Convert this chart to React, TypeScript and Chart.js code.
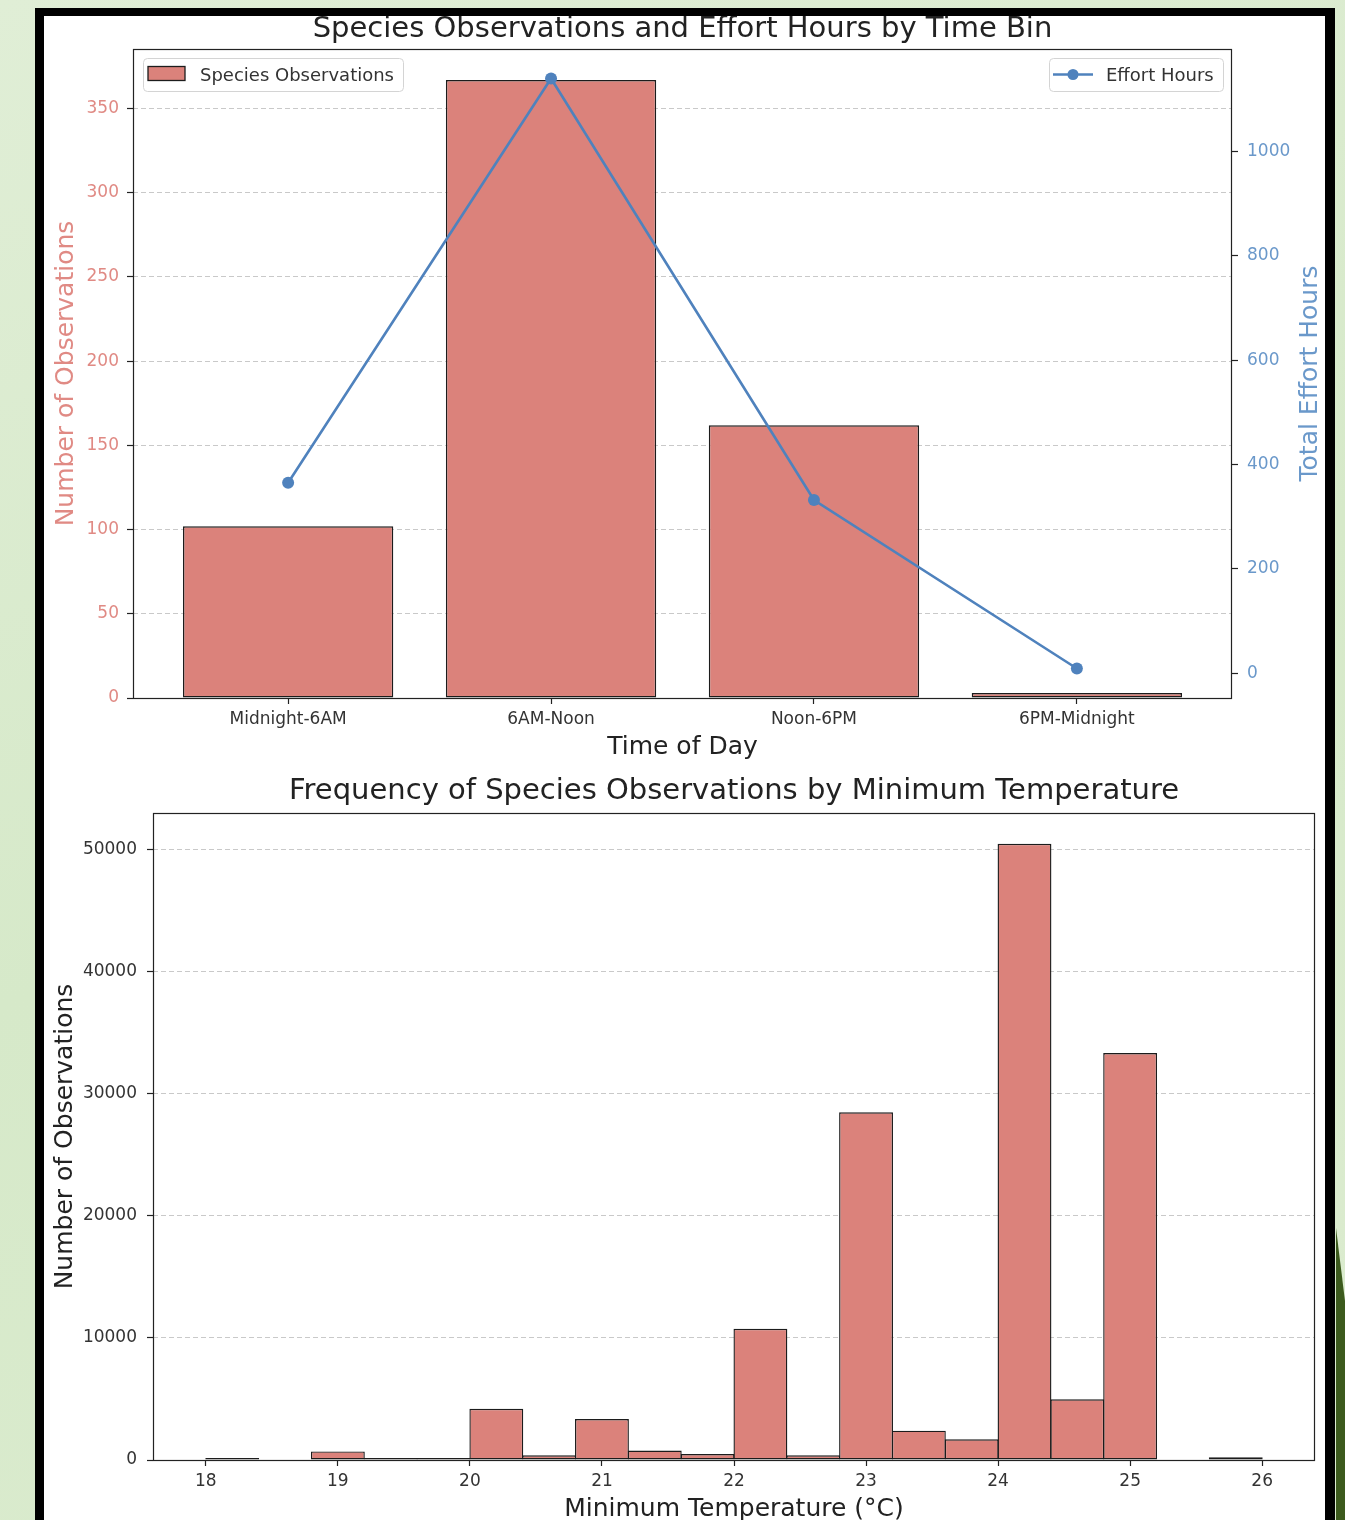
import React, { useEffect, useRef } from 'react';
import { Chart, registerables } from 'chart.js';

Chart.register(...registerables);

// ---------- Data: top chart ----------
const timeBins = ['Midnight-6AM', '6AM-Noon', 'Noon-6PM', '6PM-Midnight'];
const speciesObservations = [102, 367, 162, 3];
const effortHours = [365, 1140, 332, 9];
const obsTicks = [0, 50, 100, 150, 200, 250, 300, 350];
const effortTicks = [0, 200, 400, 600, 800, 1000];

// ---------- Data: bottom chart (histogram) ----------
const tempBinStarts = [18.0, 18.4, 18.8, 19.2, 19.6, 20.0, 20.4, 20.8, 21.2, 21.6, 22.0, 22.4, 22.8, 23.2, 23.6, 24.0, 24.4, 24.8, 25.2, 25.6];
const tempBinWidth = 0.4;
const tempCounts = [120, 0, 700, 60, 60, 4200, 380, 3360, 770, 490, 10750, 380, 28500, 2400, 1700, 50500, 4970, 33350, 0, 220];
const tempTicks = [18, 19, 20, 21, 22, 23, 24, 25, 26];
const countTicks = [0, 10000, 20000, 30000, 40000, 50000];

const FONT = 'DejaVu Sans';
const BAR = '#DB827B';
const EDGE = '#1c1c1c';
const BLUE = '#4F82BD';
const SALMON_TXT = '#E08A84';
const BLUE_TXT = '#6A98CA';
const DARK = '#222222';
const GRID = '#c9c9c9';

type TextSpec = {
  text: string; size: number; color: string;
  ax: 'l' | 'c' | 'r'; dx: number; ay: 't' | 'm' | 'b'; dy: number; rot?: boolean;
};
type LegendSpec = { kind: 'bar' | 'line'; label: string; side: 'l' | 'r'; w: number };

function makeAnnot(texts: TextSpec[], legends: LegendSpec[]) {
  return {
    id: 'annot',
    afterDraw(chart: any) {
      const ctx = chart.ctx as CanvasRenderingContext2D;
      const ca = chart.chartArea;
      ctx.save();
      // axes frame (all four spines)
      ctx.strokeStyle = DARK;
      ctx.lineWidth = 1.2;
      ctx.strokeRect(Math.round(ca.left) + 0.5, Math.round(ca.top) + 0.5,
        Math.round(ca.right - ca.left) - 1, Math.round(ca.bottom - ca.top));
      // texts
      for (const t of texts) {
        const x = (t.ax === 'l' ? ca.left : t.ax === 'r' ? ca.right : (ca.left + ca.right) / 2) + t.dx;
        const y = (t.ay === 't' ? ca.top : t.ay === 'b' ? ca.bottom : (ca.top + ca.bottom) / 2) + t.dy;
        ctx.font = `${t.size}px "${FONT}"`;
        ctx.fillStyle = t.color;
        ctx.textAlign = 'center';
        ctx.textBaseline = 'alphabetic';
        if (t.rot) {
          ctx.save();
          ctx.translate(x, y);
          ctx.rotate(-Math.PI / 2);
          ctx.fillText(t.text, 0, 0);
          ctx.restore();
        } else {
          ctx.fillText(t.text, x, y);
        }
      }
      // legends
      for (const lg of legends) {
        const h = 33;
        const bx = lg.side === 'l' ? ca.left + 10 : ca.right - 9 - lg.w;
        const by = ca.top + 9;
        ctx.beginPath();
        (ctx as any).roundRect(bx + 0.5, by + 0.5, lg.w, h, 4);
        ctx.fillStyle = 'rgba(255,255,255,0.85)';
        ctx.fill();
        ctx.strokeStyle = '#d4d4d4';
        ctx.lineWidth = 1;
        ctx.stroke();
        if (lg.kind === 'bar') {
          ctx.fillStyle = BAR;
          ctx.fillRect(bx + 5, by + 8.5, 37, 14);
          ctx.strokeStyle = EDGE;
          ctx.lineWidth = 1.3;
          ctx.strokeRect(bx + 5, by + 8.5, 37, 14);
        } else {
          ctx.strokeStyle = BLUE;
          ctx.lineWidth = 2.5;
          ctx.beginPath();
          ctx.moveTo(bx + 4, by + 16.5);
          ctx.lineTo(bx + 44, by + 16.5);
          ctx.stroke();
          ctx.fillStyle = BLUE;
          ctx.beginPath();
          ctx.arc(bx + 24, by + 16.5, 5.5, 0, Math.PI * 2);
          ctx.fill();
        }
        ctx.font = `18px "${FONT}"`;
        ctx.fillStyle = '#333';
        ctx.textAlign = 'left';
        ctx.textBaseline = 'alphabetic';
        ctx.fillText(lg.label, bx + 57, by + 23);
      }
      ctx.restore();
    },
  };
}

const tickFont = { family: FONT, size: 17 };

export default function App() {
  const topRef = useRef<HTMLCanvasElement>(null);
  const botRef = useRef<HTMLCanvasElement>(null);

  useEffect(() => {
    const topChart = new Chart(topRef.current as HTMLCanvasElement, {
      type: 'bar',
      data: {
        datasets: [
          {
            type: 'line',
            label: 'Effort Hours',
            data: effortHours.map((v, i) => ({ x: i, y: v })),
            yAxisID: 'y1',
            xAxisID: 'x',
            borderColor: BLUE,
            backgroundColor: BLUE,
            borderWidth: 2.6,
            pointRadius: 6,
            pointHoverRadius: 6,
            pointBackgroundColor: BLUE,
            pointBorderWidth: 0,
            tension: 0,
            order: 0,
          } as any,
          {
            type: 'bar',
            label: 'Species Observations',
            data: speciesObservations.map((v, i) => ({ x: i, y: v })),
            yAxisID: 'y',
            xAxisID: 'x',
            backgroundColor: BAR,
            borderColor: EDGE,
            borderWidth: 1.5,
            borderSkipped: false,
            categoryPercentage: 1,
            barPercentage: 0.8,
            order: 1,
          } as any,
        ],
      },
      options: {
        responsive: false,
        animation: false,
        events: [],
        layout: { padding: { top: 33, left: 0, right: 0, bottom: 0 } },
        plugins: { legend: { display: false }, title: { display: false }, tooltip: { enabled: false } },
        scales: {
          x: {
            type: 'linear',
            min: -0.59,
            max: 3.59,
            offset: false,
            afterFit: (s: any) => { s.height = 78; },
            afterBuildTicks: (s: any) => { s.ticks = timeBins.map((_, i) => ({ value: i })); },
            ticks: {
              autoSkip: false, maxRotation: 0, padding: 5, color: '#333', font: tickFont,
              callback: (v: any) => timeBins[Math.round(Number(v))] ?? '',
            },
            grid: { offset: false, drawOnChartArea: false, drawTicks: true, tickLength: 6, tickColor: DARK, tickWidth: 1.2 },
            border: { display: false },
          },
          y: {
            type: 'linear',
            position: 'left',
            min: 0,
            max: 385.35,
            afterFit: (s: any) => { s.width = 89; },
            afterBuildTicks: (s: any) => { s.ticks = obsTicks.map(v => ({ value: v })); },
            ticks: { padding: 8, color: SALMON_TXT, font: tickFont, callback: (v: any) => String(v) },
            grid: { color: GRID, lineWidth: 1, tickLength: 6, tickColor: DARK, tickWidth: 1.2, tickBorderDash: [] },
            border: { display: false, dash: [5, 3] },
          },
          y1: {
            type: 'linear',
            position: 'right',
            min: -47.55,
            max: 1196.55,
            afterFit: (s: any) => { s.width = 91; },
            afterBuildTicks: (s: any) => { s.ticks = effortTicks.map(v => ({ value: v })); },
            ticks: { padding: 9, color: BLUE_TXT, font: tickFont, callback: (v: any) => String(v) },
            grid: { drawOnChartArea: false, tickLength: 6, tickColor: DARK, tickWidth: 1.2 },
            border: { display: false },
          },
        },
      } as any,
      plugins: [makeAnnot(
        [
          { text: 'Species Observations and Effort Hours by Time Bin', size: 29, color: DARK, ax: 'c', dx: 0, ay: 't', dy: -12 },
          { text: 'Time of Day', size: 25, color: DARK, ax: 'c', dx: 0, ay: 'b', dy: 56 },
          { text: 'Number of Observations', size: 25, color: SALMON_TXT, ax: 'l', dx: -60, ay: 'm', dy: 0, rot: true },
          { text: 'Total Effort Hours', size: 25, color: BLUE_TXT, ax: 'r', dx: 85, ay: 'm', dy: 0, rot: true },
        ],
        [
          { kind: 'bar', label: 'Species Observations', side: 'l', w: 260 },
          { kind: 'line', label: 'Effort Hours', side: 'r', w: 174 },
        ],
      ) as any],
    });

    const botChart = new Chart(botRef.current as HTMLCanvasElement, {
      type: 'bar',
      data: {
        datasets: [
          {
            label: 'Observations',
            data: tempBinStarts.map((s, i) => ({ x: s + tempBinWidth / 2, y: tempCounts[i] === 0 ? null : tempCounts[i] })),
            backgroundColor: BAR,
            borderColor: EDGE,
            borderWidth: 1.4,
            borderSkipped: false,
            categoryPercentage: 1,
            barPercentage: 1.02,
            minBarLength: 2,
          } as any,
        ],
      },
      options: {
        responsive: false,
        animation: false,
        events: [],
        layout: { padding: { top: 37, left: 0, right: 8, bottom: 0 } },
        plugins: { legend: { display: false }, title: { display: false }, tooltip: { enabled: false } },
        scales: {
          x: {
            type: 'linear',
            min: 17.6,
            max: 26.4,
            offset: false,
            afterFit: (s: any) => { s.height = 60; },
            afterBuildTicks: (s: any) => { s.ticks = tempTicks.map(v => ({ value: v })); },
            ticks: { autoSkip: false, maxRotation: 0, padding: 5, color: '#333', font: tickFont, callback: (v: any) => String(v) },
            grid: { offset: false, drawOnChartArea: false, drawTicks: true, tickLength: 6, tickColor: DARK, tickWidth: 1.2 },
            border: { display: false },
          },
          y: {
            type: 'linear',
            min: 0,
            max: 53025,
            afterFit: (s: any) => { s.width = 109; },
            afterBuildTicks: (s: any) => { s.ticks = countTicks.map(v => ({ value: v })); },
            ticks: { padding: 10, color: '#333', font: tickFont, callback: (v: any) => String(v) },
            grid: { color: GRID, lineWidth: 1, tickLength: 6, tickColor: DARK, tickWidth: 1.2, tickBorderDash: [] },
            border: { display: false, dash: [5, 3] },
          },
        },
      } as any,
      plugins: [makeAnnot(
        [
          { text: 'Frequency of Species Observations by Minimum Temperature', size: 29, color: DARK, ax: 'c', dx: 0, ay: 't', dy: -14 },
          { text: 'Minimum Temperature (°C)', size: 25, color: DARK, ax: 'c', dx: 0, ay: 'b', dy: 56 },
          { text: 'Number of Observations', size: 25, color: DARK, ax: 'l', dx: -81, ay: 'm', dy: 0, rot: true },
        ],
        [],
      ) as any],
    });

    return () => {
      topChart.destroy();
      botChart.destroy();
    };
  }, []);

  return (
    <div style={{
      position: 'absolute', left: 0, top: 0, width: 1345, height: 1520, overflow: 'hidden',
      background: 'linear-gradient(160deg, #e0eed6 0%, #d6e9c9 50%, #dcecd0 100%)',
    }}>
      <div style={{ position: 'absolute', left: 35, top: 8, width: 1300, height: 1600, background: '#000' }} />
      <div style={{ position: 'absolute', left: 44, top: 16, width: 1281, height: 1600, background: '#fff' }} />
      <div style={{
        position: 'absolute', left: 1336, top: 1228, width: 9, height: 292, background: '#3c5a1d',
        clipPath: 'polygon(0 0, 100% 25%, 100% 100%, 0 100%)',
      }} />
      <canvas ref={topRef} width={1279} height={760}
        style={{ position: 'absolute', left: 44, top: 16, width: 1279, height: 760 }} />
      <canvas ref={botRef} width={1279} height={744}
        style={{ position: 'absolute', left: 44, top: 776, width: 1279, height: 744 }} />
    </div>
  );
}
